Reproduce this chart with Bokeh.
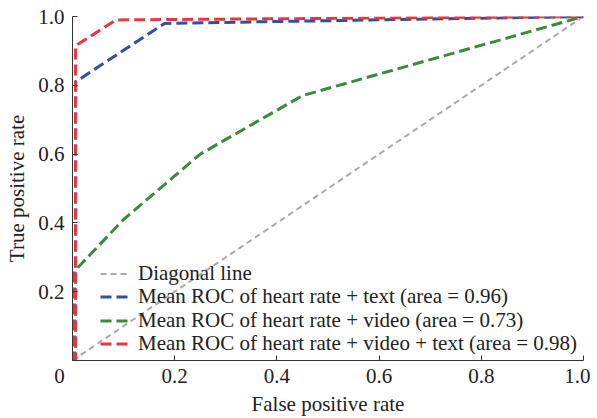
from bokeh.plotting import figure
from bokeh.models import Range1d, FixedTicker, Legend, LegendItem
from bokeh.embed import file_html
from bokeh.resources import INLINE

diag_fpr = [0.0, 1.0]
diag_tpr = [0.0, 1.0]

text_fpr = [0.0, 0.006, 0.006, 0.18, 1.0]
text_tpr = [0.0, 0.0, 0.81, 0.98, 1.0]

video_fpr = [0.0, 0.004, 0.004, 0.1, 0.25, 0.45, 1.0]
video_tpr = [0.0, 0.0, 0.26, 0.41, 0.60, 0.77, 1.0]

all_fpr = [0.0, 0.006, 0.006, 0.085, 1.0]
all_tpr = [0.0, 0.0, 0.915, 0.99, 1.0]

labels = [
    "Diagonal line",
    "Mean ROC of heart rate + text (area = 0.96)",
    "Mean ROC of heart rate + video (area = 0.73)",
    "Mean ROC of heart rate + video + text (area = 0.98)",
]
xticks = [0.0, 0.2, 0.4, 0.6, 0.8, 1.0]
xtick_labels = ["0", "0.2", "0.4", "0.6", "0.8", "1.0"]
yticks = [0.2, 0.4, 0.6, 0.8, 1.0]
ytick_labels = ["0.2", "0.4", "0.6", "0.8", "1.0"]

FONT = "Liberation Serif"
FS = "21px"

p = figure(width=590, height=418, output_backend="svg", toolbar_location=None,
           x_range=Range1d(0, 1), y_range=Range1d(0, 1),
           min_border_left=72, min_border_right=7, min_border_top=16, min_border_bottom=57)
p.grid.visible = False
p.outline_line_color = None

r0 = p.line(diag_fpr, diag_tpr, line_color="#aaaaaa", line_width=2, line_dash="6 4")
r1 = p.line(text_fpr, text_tpr, line_color="#2f4f9f", line_width=3, line_dash="11 5")
r2 = p.line(video_fpr, video_tpr, line_color="#3a8a3e", line_width=3, line_dash="11 5")
r3 = p.line(all_fpr, all_tpr, line_color="#e8363f", line_width=3, line_dash="11 5")

for ax in (p.xaxis[0], p.yaxis[0]):
    ax.major_tick_in = 5
    ax.major_tick_out = 0
    ax.minor_tick_in = 0
    ax.minor_tick_out = 0
    ax.axis_line_color = "#333333"
    ax.major_tick_line_color = "#333333"
    ax.major_label_text_font = FONT
    ax.major_label_text_font_size = FS
    ax.major_label_text_color = "#222222"
    ax.axis_label_text_font = FONT
    ax.axis_label_text_font_size = FS
    ax.axis_label_text_font_style = "normal"
    ax.axis_label_text_color = "#222222"

p.xaxis.ticker = FixedTicker(ticks=xticks)
p.yaxis.ticker = FixedTicker(ticks=yticks)
# the origin label "0" sits left of the axis corner, as in the reference
xo = {t: l for t, l in zip(xticks, xtick_labels)}
xo[0.0] = xtick_labels[0] + "\u00a0" * 5
p.xaxis.major_label_overrides = xo
p.yaxis.major_label_overrides = {t: l for t, l in zip(yticks, ytick_labels)}
p.xaxis.axis_label = "False positive rate"
p.yaxis.axis_label = "True positive rate"
p.xaxis.major_label_standoff = 3
p.yaxis.major_label_standoff = 8
p.xaxis.axis_label_standoff = 1
p.yaxis.axis_label_standoff = 6

renderers = [r0, r1, r2, r3]
row_bottoms = [74, 51, 27, 4]
for lab, rend, yb in zip(labels, renderers, row_bottoms):
    lg = Legend(items=[LegendItem(label=lab, renderers=[rend])], location=(28, yb))
    lg.background_fill_alpha = 0
    lg.border_line_alpha = 0
    lg.padding = 0
    lg.margin = 0
    lg.spacing = 0
    lg.glyph_width = 29
    lg.glyph_height = 21
    lg.label_height = 21
    lg.label_standoff = 9
    lg.label_text_font = FONT
    lg.label_text_font_size = FS
    lg.label_text_color = "#222222"
    p.add_layout(lg)

open("out.html", "w").write(file_html(p, INLINE))
